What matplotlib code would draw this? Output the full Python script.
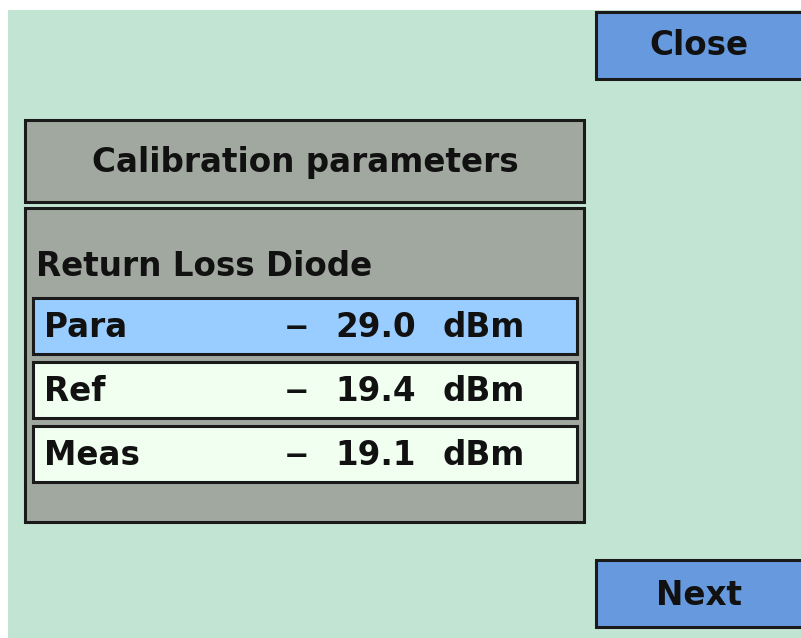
import matplotlib
matplotlib.use('Agg')
import matplotlib.pyplot as plt
from matplotlib.patches import Rectangle

# dialog content
title = 'Calibration parameters'
group = 'Return Loss Diode'
row_labels = ['Para', 'Ref', 'Meas']
row_values = ['29.0', '19.4', '19.1']
row_units = ['dBm', 'dBm', 'dBm']
buttons = ['Close', 'Next']

bg = '#c2e4d2'
gray = '#a0a89f'
blue = '#6699dd'
sel = '#99ccff'
rowbg = '#f0fff0'
edge = '#1a1a1a'
fs = 23.5

fig = plt.figure(figsize=(8.01, 6.38), dpi=100)
ax = fig.add_axes([0, 0, 1, 1])
ax.set_xlim(0, 801)
ax.set_ylim(638, 0)
ax.axis('off')


def box(x, y, w, h, fc, lw=2.2):
    ax.add_patch(Rectangle((x, y), w, h, facecolor=fc, edgecolor=edge, linewidth=lw))


def txt(x, y, s, ha='left', size=fs):
    ax.text(x, y, s, ha=ha, va='baseline', fontsize=size, fontweight='bold',
            family='DejaVu Sans', color='#111111')


# background with white margin top/left
ax.add_patch(Rectangle((8, 10), 801, 640, facecolor=bg, edgecolor='none'))

# buttons
btn_y = [12, 560]
btn_base = [55, 605]
for name, y, b in zip(buttons, btn_y, btn_base):
    box(596, y, 230, 67, blue)
    txt(699, b, name, ha='center')

# title box
box(25, 120, 559, 82, gray)
txt(305, 172, title, ha='center')

# parameter panel
box(25, 208, 559, 314, gray)
txt(36, 276, group)

for i, (lab, val, unit) in enumerate(zip(row_labels, row_values, row_units)):
    y = 298 + 64 * i
    box(33, y, 544, 56, sel if i == 0 else rowbg)
    base = y + 39
    txt(44, base, lab)
    txt(284, base, '−', size=22)
    txt(335, base, val)
    txt(443, base, unit)

fig.savefig('out.png', dpi=100, facecolor='white')
